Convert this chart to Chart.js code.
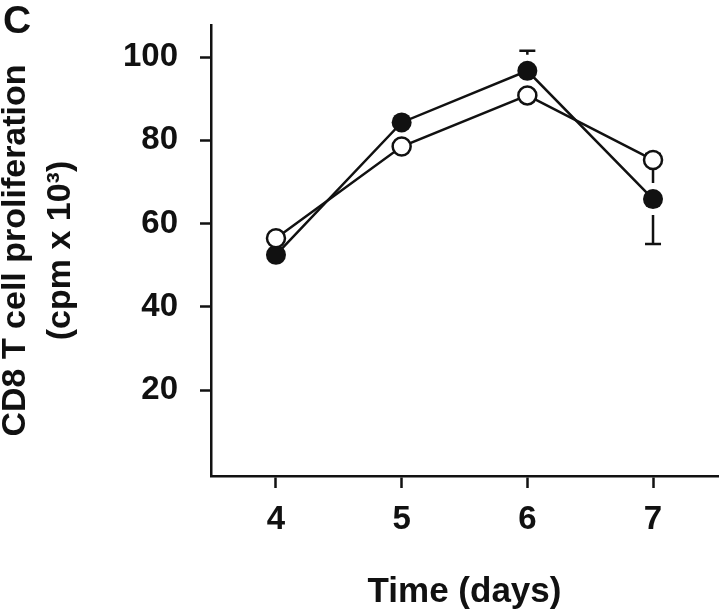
<!DOCTYPE html>
<html>
<head>
<meta charset="utf-8">
<script src="https://cdn.jsdelivr.net/npm/chart.js@4/dist/chart.umd.min.js"></script>
<style>
  html, body { margin: 0; padding: 0; background: #fff; }
  #wrap { width: 720px; height: 616px; }
</style>
</head>
<body>
<div id="wrap"><canvas id="chart" width="720" height="616"></canvas></div>
<script>
// values
const days = [4, 5, 6, 7];
const filledVals = [52.5, 84.3, 96.7, 65.9];
const filledErr = [1.5, 1.5, 4.8, 10.8];
const openVals = [56.5, 78.5, 90.8, 75.3];
const openErr = [1.5, 1.5, 1.5, 1.5];
const xTicks = [4, 5, 6, 7];
const yTicks = [20, 40, 60, 80, 100];

const FONT = "'Liberation Sans', Arial, Helvetica, sans-serif";
const INK = "#111";

const toPoints = vals => days.map((d, i) => ({ x: d, y: vals[i] }));

// error bars, drawn under the markers, with a small gap round each marker
const errorBars = {
  id: "errorBars",
  beforeDatasetsDraw(chart) {
    const { ctx, scales: { x, y } } = chart;
    ctx.save();
    ctx.strokeStyle = INK;
    ctx.lineWidth = 2.5;
    chart.data.datasets.forEach(ds => {
      const errs = ds.errors || [];
      const gap = ds.pointRadius + 6;
      ds.data.forEach((p, i) => {
        const e = errs[i];
        if (!e) return;
        const px = x.getPixelForValue(p.x);
        const py = y.getPixelForValue(p.y);
        const top = y.getPixelForValue(p.y + e);
        const bot = y.getPixelForValue(p.y - e);
        ctx.beginPath();
        if (py - top > gap) {
          ctx.moveTo(px, py - gap); ctx.lineTo(px, top);
          ctx.moveTo(px - 8, top); ctx.lineTo(px + 8, top);
        }
        if (bot - py > gap) {
          ctx.moveTo(px, py + gap); ctx.lineTo(px, bot);
          ctx.moveTo(px - 8, bot); ctx.lineTo(px + 8, bot);
        }
        ctx.stroke();
      });
    });
    ctx.restore();
  }
};

// panel letter
const panelLetter = {
  id: "panelLetter",
  afterDraw(chart) {
    const ctx = chart.ctx;
    ctx.save();
    ctx.fillStyle = INK;
    ctx.font = "bold 39px " + FONT;
    ctx.textAlign = "left";
    ctx.textBaseline = "alphabetic";
    ctx.fillText("C", 3, 33);
    ctx.restore();
  }
};

new Chart(document.getElementById("chart"), {
  type: "line",
  data: {
    datasets: [
      {
        label: "open",
        data: toPoints(openVals),
        errors: openErr,
        order: 0,
        borderColor: INK,
        borderWidth: 2.5,
        pointRadius: 9,
        pointBorderWidth: 2.5,
        pointBackgroundColor: "#fff",
        pointBorderColor: INK,
        tension: 0
      },
      {
        label: "filled",
        data: toPoints(filledVals),
        errors: filledErr,
        order: 1,
        borderColor: INK,
        borderWidth: 2.5,
        pointRadius: 10,
        pointBorderWidth: 0,
        pointBackgroundColor: INK,
        pointBorderColor: INK,
        tension: 0
      }
    ]
  },
  options: {
    responsive: false,
    animation: false,
    layout: { autoPadding: false, padding: { top: 25, right: 2, left: 0, bottom: 3 } },
    plugins: { legend: { display: false }, tooltip: { enabled: false } },
    scales: {
      x: {
        type: "linear",
        min: 3.483,
        max: 7.517,
        afterBuildTicks: s => { s.ticks = xTicks.map(v => ({ value: v })); },
        afterFit: s => { s.height = 137; s.paddingLeft = 0; s.paddingRight = 0; },
        border: { color: INK, width: 2.5 },
        grid: { drawOnChartArea: false, tickLength: 12, tickWidth: 2.5, tickColor: INK },
        ticks: { color: INK, padding: 12, font: { family: FONT, size: 33, weight: "bold" } },
        title: {
          display: true,
          text: "Time (days)",
          color: INK,
          padding: { top: 0, bottom: 0 },
          font: { family: FONT, size: 35, weight: "bold" }
        }
      },
      y: {
        min: -0.6,
        max: 107.7,
        afterBuildTicks: s => { s.ticks = yTicks.map(v => ({ value: v })); },
        afterFit: s => { s.width = 211; s.paddingTop = 0; s.paddingBottom = 0; },
        border: { color: INK, width: 2.5 },
        grid: { drawOnChartArea: false, tickLength: 11, tickWidth: 2.5, tickColor: INK },
        ticks: { color: INK, padding: 22, font: { family: FONT, size: 33, weight: "bold" } },
        title: {
          display: true,
          text: ["CD8 T cell proliferation", "(cpm x 10\u00B3)"],
          color: INK,
          padding: { top: -6, bottom: 0 },
          font: { family: FONT, size: 34, weight: "bold", lineHeight: 1.3 }
        }
      }
    }
  },
  plugins: [errorBars, panelLetter]
});
</script>
</body>
</html>
